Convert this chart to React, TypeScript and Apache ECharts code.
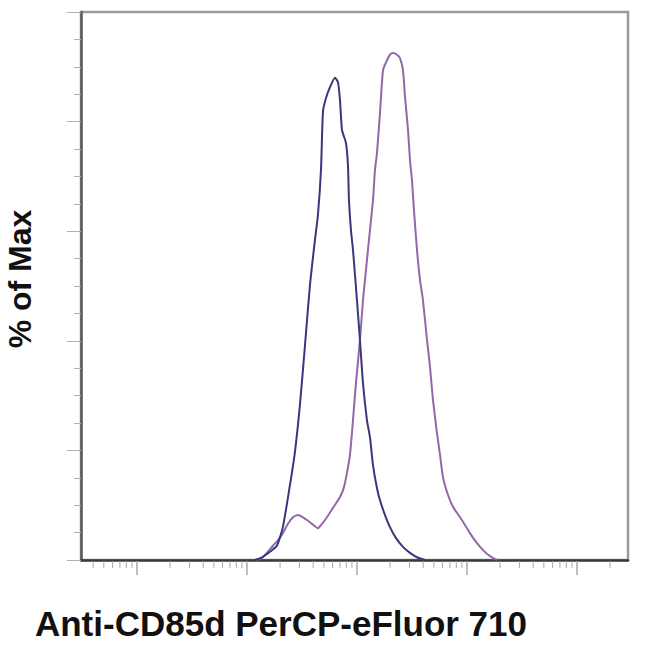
import React, { useEffect, useRef } from "react";
import * as echarts from "echarts";

// Fluorescence intensity (log axis) and % of Max for each histogram
const isotypeIntensity = [118, 137, 162, 187, 212, 246, 273, 303, 337, 374, 415, 442, 471, 491, 523, 569, 631, 672, 701, 731, 794, 828, 846, 882, 920, 1000, 1065, 1134, 1233, 1313, 1399, 1521, 1619, 1799, 1995, 2265, 2620, 3034, 3513, 4150];
const isotypePct = [0, 0.5, 1.5, 2.6, 6.0, 13.7, 19.7, 28.3, 39.2, 50.2, 58.4, 63.0, 71.2, 81.8, 84.3, 86.3, 88.0, 87.2, 83.9, 78.5, 76.1, 72.1, 65.7, 60.2, 56.6, 47.4, 40.1, 32.3, 25.5, 22.4, 17.3, 13.1, 10.9, 8.2, 6.0, 4.0, 2.4, 1.3, 0.5, 0];

const stainedIntensity = [118, 137, 155, 172, 191, 212, 236, 262, 291, 323, 351, 390, 442, 481, 534, 605, 701, 762, 811, 864, 920, 979, 1065, 1134, 1208, 1259, 1341, 1399, 1458, 1521, 1619, 1726, 1875, 1995, 2125, 2311, 2460, 2620, 2735, 2911, 3034, 3162, 3296, 3513, 3741, 3981, 4335, 4613, 4909, 5333, 5689, 6053, 6714, 7464, 8650, 9594, 10650, 12080, 13990, 16180, 18750];
const stainedPct = [0, 0.4, 1.5, 2.6, 3.6, 4.9, 6.6, 7.8, 8.2, 7.8, 7.3, 6.6, 5.8, 6.6, 7.8, 9.5, 11.5, 13.3, 15.9, 19.2, 25.5, 32.3, 40.1, 47.4, 52.9, 56.6, 62.0, 65.7, 71.2, 74.3, 81.6, 89.4, 91.2, 92.2, 92.5, 92.2, 91.6, 89.4, 84.5, 78.5, 73.0, 69.3, 63.9, 56.6, 51.1, 47.4, 40.1, 35.2, 29.2, 23.2, 19.2, 15.1, 11.9, 9.7, 7.8, 6.4, 4.9, 3.3, 1.8, 0.7, 0];

const xMin = 3.1;
const xMax = 291000;
const decades = [1, 10, 100, 1000, 10000, 100000];
const xTitle = "Anti-CD85d PerCP-eFluor 710";
const yTitle = "% of Max";

function buildTicks(): number[][] {
  const out: number[][] = [];
  for (const d of decades) {
    for (let m = 1; m <= 9; m++) {
      const v = m * d;
      if (v > xMin && v < xMax) out.push([v, m === 1 ? 1 : 0]);
    }
  }
  return out;
}

export default function App() {
  const ref = useRef<HTMLDivElement>(null);
  useEffect(() => {
    if (!ref.current) return;
    const chart = echarts.init(ref.current, null, { renderer: "svg" });
    const zip = (a: number[], b: number[]) => a.map((v, i) => [v, b[i]]);
    chart.setOption({
      animation: false,
      backgroundColor: "#ffffff",
      grid: {
        left: 81,
        top: 12,
        right: 22,
        bottom: 90,
        show: true,
        borderColor: "#9a9a9a",
        borderWidth: 2.5,
        backgroundColor: "transparent",
      },
      xAxis: {
        type: "log",
        min: xMin,
        max: xMax,
        logBase: 10,
        axisLabel: { show: false },
        axisTick: { show: false },
        splitLine: { show: false },
        axisLine: { lineStyle: { color: "#3a3a3a", width: 2.5 } },
      },
      yAxis: {
        type: "value",
        min: 0,
        max: 100,
        interval: 20,
        axisLabel: { show: false },
        splitLine: { show: false },
        axisLine: { show: true, lineStyle: { color: "#5a5a5a", width: 2.5 } },
        axisTick: { show: true, length: 14, lineStyle: { color: "#b0b0b0", width: 1 } },
        minorTick: { show: true, splitNumber: 4, length: 7, lineStyle: { color: "#b0b0b0", width: 1 } },
      },
      series: [
        {
          type: "custom",
          silent: true,
          clip: false,
          data: buildTicks(),
          encode: { x: 0, y: -1 },
          renderItem: (params: any, api: any) => {
            const p = api.coord([api.value(0), 0]);
            const major = api.value(1) === 1;
            return {
              type: "line",
              shape: { x1: p[0], y1: p[1] + 1, x2: p[0], y2: p[1] + (major ? 15 : 8) },
              style: { stroke: "#a8a8a8", lineWidth: major ? 1.5 : 1 },
            };
          },
          z: 1,
        },
        {
          type: "line",
          name: "stained",
          data: zip(stainedIntensity, stainedPct),
          showSymbol: false,
          smooth: 0.2,
          lineStyle: { color: "#9468a8", width: 2 },
          z: 3,
        },
        {
          type: "line",
          name: "isotype",
          data: zip(isotypeIntensity, isotypePct),
          showSymbol: false,
          smooth: 0.2,
          lineStyle: { color: "#38387e", width: 2 },
          z: 4,
        },
      ],
      graphic: [
        {
          type: "text",
          x: 281,
          y: 623,
          style: {
            text: xTitle,
            font: 'bold 35px "Liberation Sans", Arial, sans-serif',
            fill: "#111111",
            textAlign: "center",
            textVerticalAlign: "middle",
          },
        },
        {
          type: "text",
          x: 20,
          y: 279,
          rotation: Math.PI / 2,
          style: {
            text: yTitle,
            font: 'bold 32px "Liberation Sans", Arial, sans-serif',
            fill: "#111111",
            textAlign: "center",
            textVerticalAlign: "middle",
          },
        },
      ],
    });
    return () => chart.dispose();
  }, []);
  return (
    <div
      ref={ref}
      style={{ position: "absolute", left: 0, top: 0, width: 650, height: 650 }}
    />
  );
}
